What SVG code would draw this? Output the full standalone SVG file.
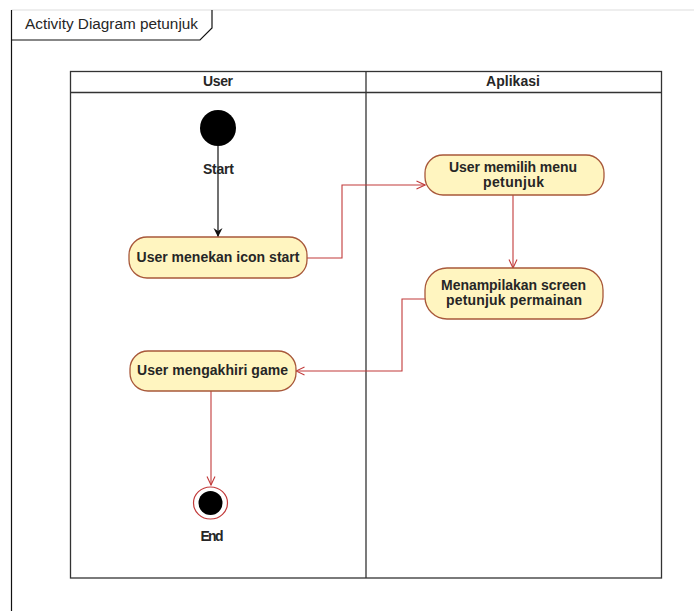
<svg xmlns="http://www.w3.org/2000/svg" width="694" height="611" viewBox="0 0 694 611">
<style>
text{font-family:"Liberation Sans",Arial,sans-serif;font-size:14px;fill:#262626;}
.b{font-weight:bold;}
.node{fill:#fff5c0;stroke:#a8583a;stroke-width:1.3;}
.lane{fill:none;stroke:#333;stroke-width:1.3;}
.conn{fill:none;stroke:#c23a3a;stroke-width:1.1;}
</style>
<defs>
<marker id="open" viewBox="0 0 10 10" refX="9.5" refY="5" markerWidth="10" markerHeight="10" markerUnits="userSpaceOnUse" orient="auto">
<path d="M1,1 L9.5,5 L1,9" fill="none" stroke="#c23a3a" stroke-width="1.1"/>
</marker>
<marker id="blk" viewBox="0 0 10 10" refX="9" refY="5" markerWidth="10" markerHeight="10" markerUnits="userSpaceOnUse" orient="auto">
<path d="M0,0.5 L9,5 L0,9.5 L3,5 Z" fill="#111"/>
</marker>
</defs>
<rect width="694" height="611" fill="#fff"/>
<g id="frame">
<line x1="11.5" y1="10" x2="694" y2="10" stroke="#ddd" stroke-width="1"/>
<line x1="11.5" y1="10" x2="11.5" y2="611" stroke="#111" stroke-width="1.2"/>
<path d="M11.5,40 L200,40 L212,28 L212,10" fill="none" stroke="#111" stroke-width="1.2"/>
<text x="25" y="29" textLength="173" lengthAdjust="spacingAndGlyphs">Activity Diagram petunjuk</text>
</g>
<g id="swimlanes">
<rect class="lane" x="70.5" y="71.5" width="591" height="506.5"/>
<line class="lane" x1="70.5" y1="92.5" x2="661.5" y2="92.5"/>
<line class="lane" x1="366" y1="71.5" x2="366" y2="578"/>
<text class="b" x="218" y="86" text-anchor="middle" textLength="30">User</text>
<text class="b" x="513" y="86" text-anchor="middle" textLength="54">Aplikasi</text>
</g>
<g id="connectors">
<line x1="218" y1="146" x2="218" y2="237" stroke="#111" stroke-width="1.2" marker-end="url(#blk)"/>
<polyline class="conn" points="307,258 342,258 342,185 425,185" marker-end="url(#open)"/>
<line class="conn" x1="513" y1="195" x2="513" y2="268" marker-end="url(#open)"/>
<polyline class="conn" points="425,299 402,299 402,371 296,371" marker-end="url(#open)"/>
<line class="conn" x1="211" y1="391" x2="211" y2="485" marker-end="url(#open)"/>
</g>
<g id="start">
<circle cx="218" cy="128" r="18" fill="#000"/>
<text class="b" x="218.5" y="174" text-anchor="middle" textLength="31">Start</text>
</g>
<g id="n1">
<rect class="node" x="129" y="237" width="178" height="41" rx="18"/>
<text class="b" x="218" y="262" text-anchor="middle" textLength="163">User menekan icon start</text>
</g>
<g id="n2">
<rect class="node" x="425" y="155" width="179" height="40" rx="18"/>
<text class="b" x="513" y="172" text-anchor="middle" textLength="128">User memilih menu</text>
<text class="b" x="513.5" y="187" text-anchor="middle" textLength="61">petunjuk</text>
</g>
<g id="n3">
<rect class="node" x="425" y="268" width="178" height="51" rx="22"/>
<text class="b" x="513.5" y="289.5" text-anchor="middle" textLength="145">Menampilakan screen</text>
<text class="b" x="514" y="305" text-anchor="middle" textLength="136">petunjuk permainan</text>
</g>
<g id="n4">
<rect class="node" x="130" y="351" width="166" height="40" rx="18"/>
<text class="b" x="212.5" y="375" text-anchor="middle" textLength="151">User mengakhiri game</text>
</g>
<g id="end">
<ellipse cx="210.5" cy="503" rx="17" ry="16" fill="#fff" stroke="#c23a3a" stroke-width="1.2"/>
<circle cx="210.5" cy="503" r="12" fill="#000"/>
<text class="b" x="212" y="541" text-anchor="middle" textLength="23">End</text>
</g>
</svg>
